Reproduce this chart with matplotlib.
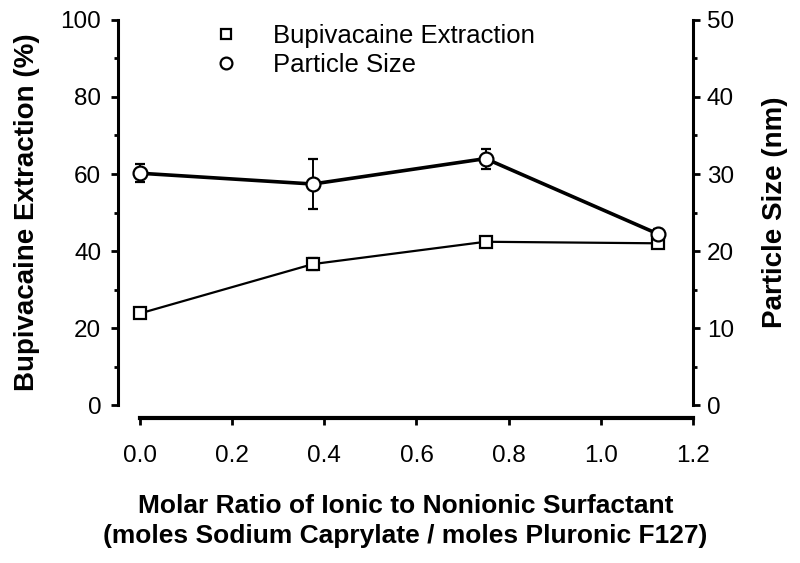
## Bupivacaine extraction and particle size vs surfactant molar ratio
import matplotlib.pyplot as plt
from matplotlib.ticker import MultipleLocator
from matplotlib.lines import Line2D

# data
molar_ratio = [0.0, 0.375, 0.75, 1.125]
extraction = [23.8, 36.6, 42.4, 42.0]
extraction_err = [0.6, 1.6, 0.8, 0.8]
particle_size = [30.1, 28.7, 32.0, 22.2]
particle_err = [1.2, 3.2, 1.3, 0.6]

plt.rcParams['font.family'] = ['Liberation Sans', 'DejaVu Sans']

fig = plt.figure(figsize=(8, 5.63), dpi=100)
ax = fig.add_axes([0.1475, 0.2806, 0.7185, 0.6839])
ax2 = ax.twinx()

ax.errorbar(molar_ratio, extraction, yerr=extraction_err, color='black',
            lw=1.6, marker='s', ms=8.5, mfc='white', mec='black', mew=1.6,
            elinewidth=1.3, capsize=3.5, capthick=1.3, zorder=3)
ax2.errorbar(molar_ratio, particle_size, yerr=particle_err, color='black',
             lw=2.6, marker='o', ms=10, mfc='white', mec='black', mew=1.6,
             elinewidth=1.4, capsize=3.5, capthick=1.4, zorder=3)

ax.set_xlim(-0.048, 1.2)
ax.set_ylim(0, 100)
ax2.set_ylim(0, 50)

ax.yaxis.set_major_locator(MultipleLocator(20))
ax.yaxis.set_minor_locator(MultipleLocator(10))
ax2.yaxis.set_major_locator(MultipleLocator(10))
ax2.yaxis.set_minor_locator(MultipleLocator(5))
ax.set_xticks([0.0, 0.2, 0.4, 0.6, 0.8, 1.0, 1.2])
ax.set_xticklabels(['0.0', '0.2', '0.4', '0.6', '0.8', '1.0', '1.2'])

for a in (ax, ax2):
    a.spines['top'].set_visible(False)
    a.spines['bottom'].set_visible(False)
    for s in ('left', 'right'):
        a.spines[s].set_linewidth(2.2)
    a.patch.set_visible(False)

ax.spines['right'].set_visible(False)
ax2.spines['left'].set_visible(False)
ax.spines['bottom'].set_visible(True)
ax.spines['bottom'].set_position(('outward', 9.5))
ax.spines['bottom'].set_bounds(0, 1.2)
ax.spines['bottom'].set_linewidth(3)

ax.tick_params(axis='y', which='major', direction='out', length=5, width=2, labelsize=17.5, pad=7)
ax.tick_params(axis='y', which='minor', direction='out', length=3, width=2)
ax2.tick_params(axis='y', which='major', direction='out', length=5, width=2, labelsize=17.5, pad=5)
ax2.tick_params(axis='y', which='minor', direction='out', length=3, width=2)
ax.tick_params(axis='x', direction='out', length=5, width=2, labelsize=17.5, pad=14)

ax.set_ylabel('Bupivacaine Extraction (%)', fontsize=20, fontweight='bold', labelpad=15)
ax2.set_ylabel('Particle Size (nm)', fontsize=20, fontweight='bold', labelpad=20)
ax.set_xlabel('Molar Ratio of Ionic to Nonionic Surfactant\n(moles Sodium Caprylate / moles Pluronic F127)',
              fontsize=19, fontweight='bold', labelpad=20, linespacing=1.3)

handles = [
    Line2D([], [], ls='none', marker='s', ms=7.5, mfc='white', mec='black', mew=1.6),
    Line2D([], [], ls='none', marker='o', ms=8.5, mfc='white', mec='black', mew=1.6),
]
ax.legend(handles, ['Bupivacaine Extraction', 'Particle Size'], loc='upper left',
          bbox_to_anchor=(0.125, 1.016), frameon=False, fontsize=18.5,
          handletextpad=0.85, labelspacing=0.2, borderaxespad=0)

plt.savefig('out.png', dpi=100)
